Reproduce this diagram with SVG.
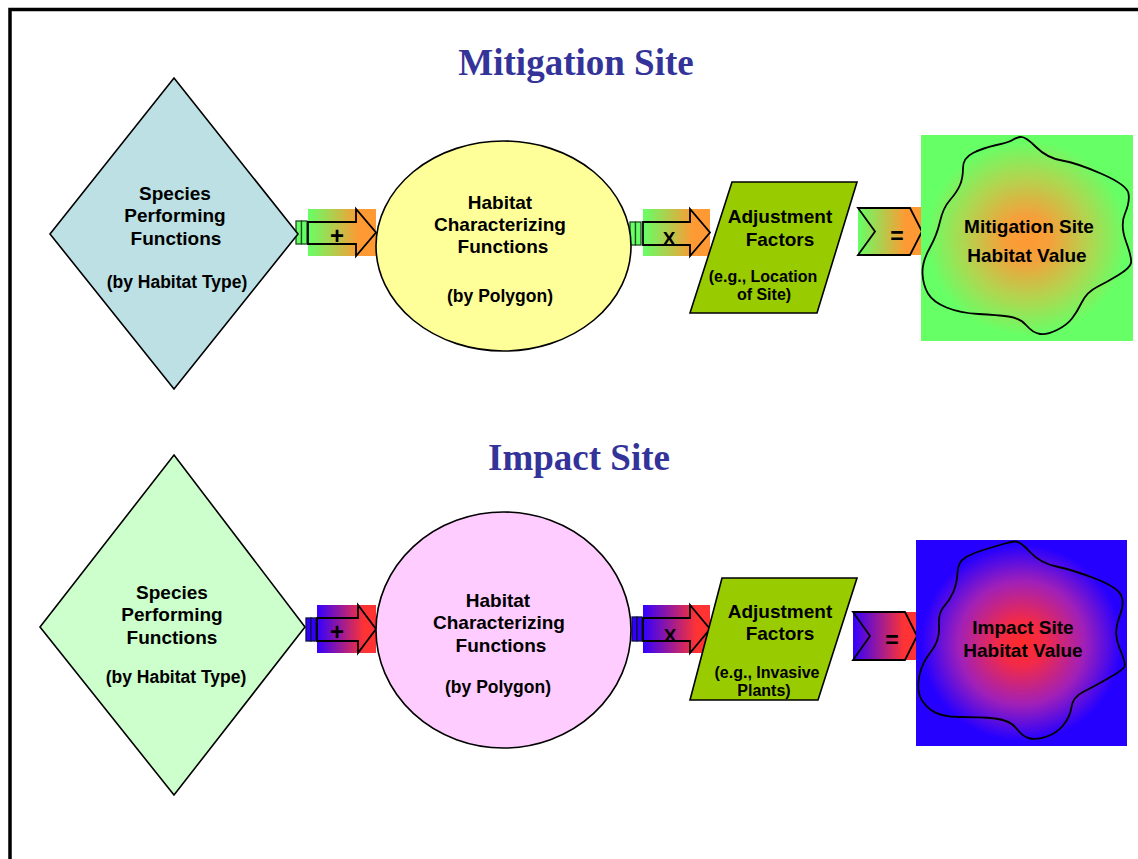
<svg xmlns="http://www.w3.org/2000/svg" width="1138" height="859" viewBox="0 0 1138 859">
<style>
.lbl{font-family:"Liberation Sans",Arial,sans-serif;font-weight:bold;font-size:19px;fill:#000;text-anchor:middle}
.sub{font-family:"Liberation Sans",Arial,sans-serif;font-weight:bold;font-size:17.5px;fill:#000;text-anchor:middle}
.sub2{font-family:"Liberation Sans",Arial,sans-serif;font-weight:bold;font-size:16px;fill:#000;text-anchor:middle}
.op{font-family:"Liberation Sans",Arial,sans-serif;font-weight:bold;fill:#000;text-anchor:middle}
.title{font-family:"Liberation Serif","Times New Roman",serif;font-weight:bold;font-size:37px;fill:#333399;text-anchor:middle}
.shape{stroke:#000;stroke-width:1.6}
.outline{fill:none;stroke:#000;stroke-width:1.8;stroke-linejoin:miter}
.blob{fill:none;stroke:#000;stroke-width:1.8;stroke-linejoin:round}
.barT{fill:#66ff66;stroke:#1f4f1f;stroke-width:1.3}
.barB{fill:#3300ff;stroke:#10104a;stroke-width:1.3}
</style>
<defs>
<linearGradient id="gTop" x1="0" y1="0" x2="1" y2="0">
<stop offset="0" stop-color="#66ff66"/>
<stop offset="0.75" stop-color="#ff9933"/>
<stop offset="1" stop-color="#ff9933"/>
</linearGradient>
<linearGradient id="gBot" x1="0" y1="0" x2="1" y2="0">
<stop offset="0" stop-color="#3300ff"/>
<stop offset="0.8" stop-color="#ff3333"/>
<stop offset="1" stop-color="#ff3333"/>
</linearGradient>
<radialGradient id="gMit" cx="0.5" cy="0.5" r="0.5">
<stop offset="0" stop-color="#ff9933"/>
<stop offset="0.22" stop-color="#f5a03a"/>
<stop offset="0.6" stop-color="#b0d650"/>
<stop offset="0.95" stop-color="#66ff66"/>
<stop offset="1" stop-color="#66ff66"/>
</radialGradient>
<radialGradient id="gImp" cx="0.5" cy="0.5" r="0.5">
<stop offset="0" stop-color="#ff2a2a"/>
<stop offset="0.22" stop-color="#f22a48"/>
<stop offset="0.6" stop-color="#a020b8"/>
<stop offset="0.95" stop-color="#2600ff"/>
<stop offset="1" stop-color="#2600ff"/>
</radialGradient>
</defs>
<rect width="1138" height="859" fill="#fff"/>
<rect x="10" y="9.5" width="1140" height="870" fill="none" stroke="#000" stroke-width="3.5"/>

<text class="title" x="576" y="75">Mitigation Site</text>
<text class="title" x="579" y="470">Impact Site</text>

<g id="connectors">
<g id="op-plus-top">
<rect x="296" y="221" width="5.5" height="23" class="barT"/>
<rect x="301.5" y="221" width="5.5" height="23" class="barT"/>
<rect x="308" y="209" width="68" height="47" fill="url(#gTop)"/>
<path class="outline" d="M308,222 H356 V209 L376,232.5 L356,256 V244 H308 Z"/>
<text class="op" x="337" y="244" font-size="24">+</text>
</g>
<g id="op-times-top">
<rect x="630" y="222" width="5.5" height="23" class="barT"/>
<rect x="635.5" y="222" width="5.5" height="23" class="barT"/>
<rect x="643" y="209" width="67" height="47" fill="url(#gTop)"/>
<path class="outline" d="M643,222 H690 V209 L710,232.5 L690,256 V245 H643 Z"/>
<text class="op" x="669" y="245" font-size="19">X</text>
</g>
<g id="op-eq-top">
<rect x="858" y="207" width="64" height="48" fill="url(#gTop)"/>
<path class="outline" d="M858,208 H910 L922,231.5 L910,255 H858 L875,231.5 Z"/>
<text class="op" x="897" y="244" font-size="23">=</text>
</g>
<g id="op-plus-bot">
<rect x="306" y="618" width="5" height="23" class="barB"/>
<rect x="311" y="618" width="5" height="23" class="barB"/>
<rect x="317" y="605" width="59" height="48" fill="url(#gBot)"/>
<path class="outline" d="M317,618 H358 V605 L376,629 L358,653 V641 H317 Z"/>
<text class="op" x="337" y="640" font-size="24">+</text>
</g>
<g id="op-times-bot">
<rect x="632" y="617" width="5" height="24" class="barB"/>
<rect x="637" y="617" width="5" height="24" class="barB"/>
<rect x="643" y="605" width="67" height="48" fill="url(#gBot)"/>
<path class="outline" d="M643,618 H690 V605 L710,629 L690,653 V641 H643 Z"/>
<text class="op" x="670" y="642" font-size="19">X</text>
</g>
<g id="op-eq-bot">
<rect x="853" y="612" width="64" height="48" fill="url(#gBot)"/>
<path class="outline" d="M853,612 H905 L917,636 L905,660 H853 L870,636 Z"/>
<text class="op" x="892" y="648" font-size="23">=</text>
</g>
</g>

<g id="species-mitigation">
<polygon class="shape" points="174,78 298,234 174,389 50,234" fill="#bce0e4"/>
<text class="lbl" x="175" y="200">Species</text>
<text class="lbl" x="175" y="222">Performing</text>
<text class="lbl" x="176" y="245">Functions</text>
<text class="sub" x="177" y="288">(by Habitat Type)</text>
</g>
<g id="habitat-mitigation">
<ellipse class="shape" cx="503.5" cy="246" rx="127.5" ry="105" fill="#ffff99"/>
<text class="lbl" x="500" y="209">Habitat</text>
<text class="lbl" x="500" y="231">Characterizing</text>
<text class="lbl" x="503" y="253">Functions</text>
<text class="sub" x="500" y="302">(by Polygon)</text>
</g>
<g id="adjust-mitigation">
<polygon class="shape" points="732,182 857,182 817,313 690,313" fill="#99cc00"/>
<text class="lbl" x="780" y="223">Adjustment</text>
<text class="lbl" x="780" y="246">Factors</text>
<text class="sub2" x="763" y="282">(e.g., Location</text>
<text class="sub2" x="764" y="300">of Site)</text>
</g>
<g id="value-mitigation">
<rect x="921" y="135" width="212" height="206" fill="url(#gMit)"/>
<path class="blob" d="M1012.5,140 Q1015,138 1020,137 Q1025,136 1036,147 Q1047,158 1062,160.5 Q1077,163 1102,174 Q1127,185 1128.5,193.5 Q1130,202 1125,213.5 Q1120,225 1126,241.5 Q1132,258 1131,263 Q1130,268 1118.5,275 Q1107,282 1097,287 Q1087,292 1082,302 Q1077,312 1072,318.5 Q1067,325 1057,330 Q1047,335 1040,334 Q1033,333 1026.5,325.5 Q1020,318 1008.5,316.5 Q997,315 978.5,314 Q960,313 946.5,307.5 Q933,302 928,293.5 Q923,285 922.5,273.5 Q922,262 929.5,248.5 Q937,235 940,221.5 Q943,208 950,200 Q957,192 960,185 Q963,178 963,168 Q963,158 973,153 Q983,148 996.5,145 Q1010,142 1012.5,140 Z"/>
<text class="lbl" x="1029" y="233">Mitigation Site</text>
<text class="lbl" x="1027" y="262">Habitat Value</text>
</g>

<g id="species-impact">
<polygon class="shape" points="174,455 305,627 174,795 40,627" fill="#ccffcc"/>
<text class="lbl" x="172" y="599">Species</text>
<text class="lbl" x="172" y="621">Performing</text>
<text class="lbl" x="172" y="644">Functions</text>
<text class="sub" x="176" y="683">(by Habitat Type)</text>
</g>
<g id="habitat-impact">
<ellipse class="shape" cx="503.5" cy="630" rx="127.5" ry="118" fill="#ffccff"/>
<text class="lbl" x="498" y="607">Habitat</text>
<text class="lbl" x="499" y="629">Characterizing</text>
<text class="lbl" x="501" y="652">Functions</text>
<text class="sub" x="498" y="693">(by Polygon)</text>
</g>
<g id="adjust-impact">
<polygon class="shape" points="722,578 857,578 818,700 690,700" fill="#99cc00"/>
<text class="lbl" x="780" y="618">Adjustment</text>
<text class="lbl" x="780" y="640">Factors</text>
<text class="sub2" x="767" y="678">(e.g., Invasive</text>
<text class="sub2" x="764" y="696">Plants)</text>
</g>
<g id="value-impact">
<rect x="916" y="540" width="211" height="206" fill="url(#gImp)"/>
<path class="blob" d="M1005,543.5 Q1010,542 1015,541.5 Q1020,541 1030,552 Q1040,563 1056.5,566.5 Q1073,570 1095,578.5 Q1117,587 1121,595 Q1125,603 1119,618 Q1113,633 1119.5,648 Q1126,663 1124.5,666.5 Q1123,670 1108,678.5 Q1093,687 1083,692 Q1073,697 1071.5,707 Q1070,717 1063.5,725 Q1057,733 1047,736.5 Q1037,740 1030,738.5 Q1023,737 1016.5,728.5 Q1010,720 995,718.5 Q980,717 960,717 Q940,717 931,710 Q922,703 919.5,695 Q917,687 919.5,675 Q922,663 931,651.5 Q940,640 939,626.5 Q938,613 944,606.5 Q950,600 953.5,591.5 Q957,583 957.5,572.5 Q958,562 965.5,557.5 Q973,553 986.5,549 Q1000,545 1005,543.5 Z"/>
<text class="lbl" x="1023" y="634">Impact Site</text>
<text class="lbl" x="1023" y="657">Habitat Value</text>
</g>
</svg>
